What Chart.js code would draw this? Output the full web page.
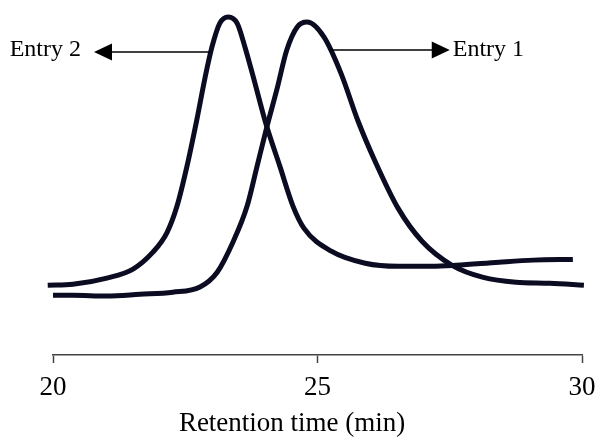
<!DOCTYPE html>
<html>
<head>
<meta charset="utf-8">
<script src="https://cdn.jsdelivr.net/npm/chart.js@4"></script>
<style>
  html, body { margin: 0; padding: 0; background: #fff; }
  #wrap { width: 597px; height: 437px; }
</style>
</head>
<body>
<div id="wrap"><canvas id="myChart"></canvas></div>
<script>
// retention time (min) and detector signal
const entry2Time = [19.9, 20.376, 21.018, 21.513, 21.888, 22.155, 22.343, 22.531, 22.719, 22.877, 23.005, 23.154, 23.312, 23.48, 23.628, 23.816, 24.024, 24.291, 24.538, 24.746, 25.26, 25.902, 26.525, 27.168, 27.623, 28.433, 29.076, 29.827];
const entry2Signal = [20.2, 20.5, 22.3, 24.9, 29.8, 35.5, 43.1, 54.6, 68.2, 80.6, 89.3, 96.2, 98.0, 96.2, 89.3, 78.9, 67.1, 54.6, 43.1, 36.7, 30.1, 26.6, 25.7, 25.7, 26.0, 26.9, 27.5, 27.7];

const entry1Time = [20.0, 20.376, 21.018, 21.641, 22.264, 22.778, 23.104, 23.401, 23.668, 23.856, 24.044, 24.231, 24.419, 24.617, 24.805, 25.121, 25.448, 25.764, 26.09, 26.525, 26.98, 27.544, 28.134, 28.75, 29.392, 30.036];
const entry1Signal = [17.3, 17.3, 17.1, 17.6, 18.2, 19.7, 24.0, 32.7, 43.1, 54.6, 66.2, 76.9, 88.4, 95.1, 96.5, 92.2, 81.5, 67.9, 56.1, 42.5, 32.9, 26.0, 22.5, 21.1, 20.8, 20.2];

const xTicks = [20, 25, 30];
const axisTitle = "Retention time (min)";
const titleCenter = 24.52; // the title sits a bit left of the axis middle

// arrow annotations: [text, arrow start (min), arrow tip (min), signal level]
const entryLabels = [
  ["Entry 2", 22.97, 20.775, 87.8],
  ["Entry 1", 25.24, 27.5, 88.4],
];

const toPoints = (xs, ys) => xs.map((x, i) => ({ x: x, y: ys[i] }));

const lineColor = "#0b0b22";
const serif = "'Liberation Serif', 'Times New Roman', serif";

const arrowLabels = {
  id: "arrowLabels",
  afterDatasetsDraw(chart) {
    const ctx = chart.ctx;
    const xs = chart.scales.x;
    const ys = chart.scales.y;
    ctx.save();
    ctx.strokeStyle = "#000";
    ctx.fillStyle = "#000";
    ctx.lineWidth = 1.5;
    ctx.font = "24px " + serif;
    ctx.textBaseline = "middle";
    entryLabels.forEach(([text, from, to, level]) => {
      const x0 = xs.getPixelForValue(from);
      const x1 = xs.getPixelForValue(to);
      const y = ys.getPixelForValue(level);
      const dir = x1 > x0 ? 1 : -1;
      ctx.beginPath();
      ctx.moveTo(x0, y);
      ctx.lineTo(x1 - dir * 16, y);
      ctx.stroke();
      // arrow head
      ctx.beginPath();
      ctx.moveTo(x1, y);
      ctx.lineTo(x1 - dir * 18, y - 8.5);
      ctx.lineTo(x1 - dir * 18, y + 8.5);
      ctx.closePath();
      ctx.fill();
      ctx.textAlign = dir > 0 ? "left" : "right";
      const gap = dir > 0 ? 3 : 13;
      ctx.fillText(text, x1 + dir * gap, dir > 0 ? y : y - 2);
    });

    // axis title, drawn here so it can be shifted off-centre
    ctx.font = "27px " + serif;
    ctx.textAlign = "center";
    ctx.fillText(axisTitle, xs.getPixelForValue(titleCenter), xs.bottom - 13.5);
    ctx.restore();
  },
};

const ctx = document.getElementById("myChart").getContext("2d");

const chart = new Chart(ctx, {
  type: "line",
  data: {
    datasets: [
      {
        label: "Entry 2",
        data: toPoints(entry2Time, entry2Signal),
        borderColor: lineColor,
        borderWidth: 5,
        pointRadius: 0,
        tension: 0.4,
        cubicInterpolationMode: "monotone",
        clip: false,
      },
      {
        label: "Entry 1",
        data: toPoints(entry1Time, entry1Signal),
        borderColor: lineColor,
        borderWidth: 5,
        pointRadius: 0,
        tension: 0.4,
        cubicInterpolationMode: "monotone",
        clip: false,
      },
    ],
  },
  options: {
    responsive: true,
    maintainAspectRatio: false,
    animation: false,
    layout: {
      padding: { left: 53, right: 15, top: 10, bottom: 0 },
    },
    plugins: {
      legend: { display: false },
      tooltip: { enabled: false },
    },
    scales: {
      x: {
        type: "linear",
        min: 20,
        max: 30,
        afterBuildTicks: (axis) => {
          axis.ticks = xTicks.map((v) => ({ value: v }));
        },
        // let the end labels hang past the plot edges
        afterFit: (axis) => {
          axis.paddingLeft = 0;
          axis.paddingRight = 0;
        },
        border: { display: true, color: "#444", width: 1.5 },
        grid: {
          drawOnChartArea: false,
          drawTicks: true,
          tickLength: 8,
          tickColor: "#444",
          tickWidth: 1.5,
        },
        ticks: {
          color: "#000",
          padding: 11,
          maxRotation: 0,
          font: { family: serif, size: 27, lineHeight: 1.0 },
        },
        // keeps the room for the title; the text itself is drawn by the plugin
        title: {
          display: true,
          text: axisTitle,
          color: "rgba(0,0,0,0)",
          padding: { top: -2, bottom: 0 },
          font: { family: serif, size: 27, lineHeight: 1.0 },
        },
      },
      y: {
        display: false,
        min: 0,
        max: 100,
      },
    },
  },
  plugins: [arrowLabels],
});
</script>
</body>
</html>
